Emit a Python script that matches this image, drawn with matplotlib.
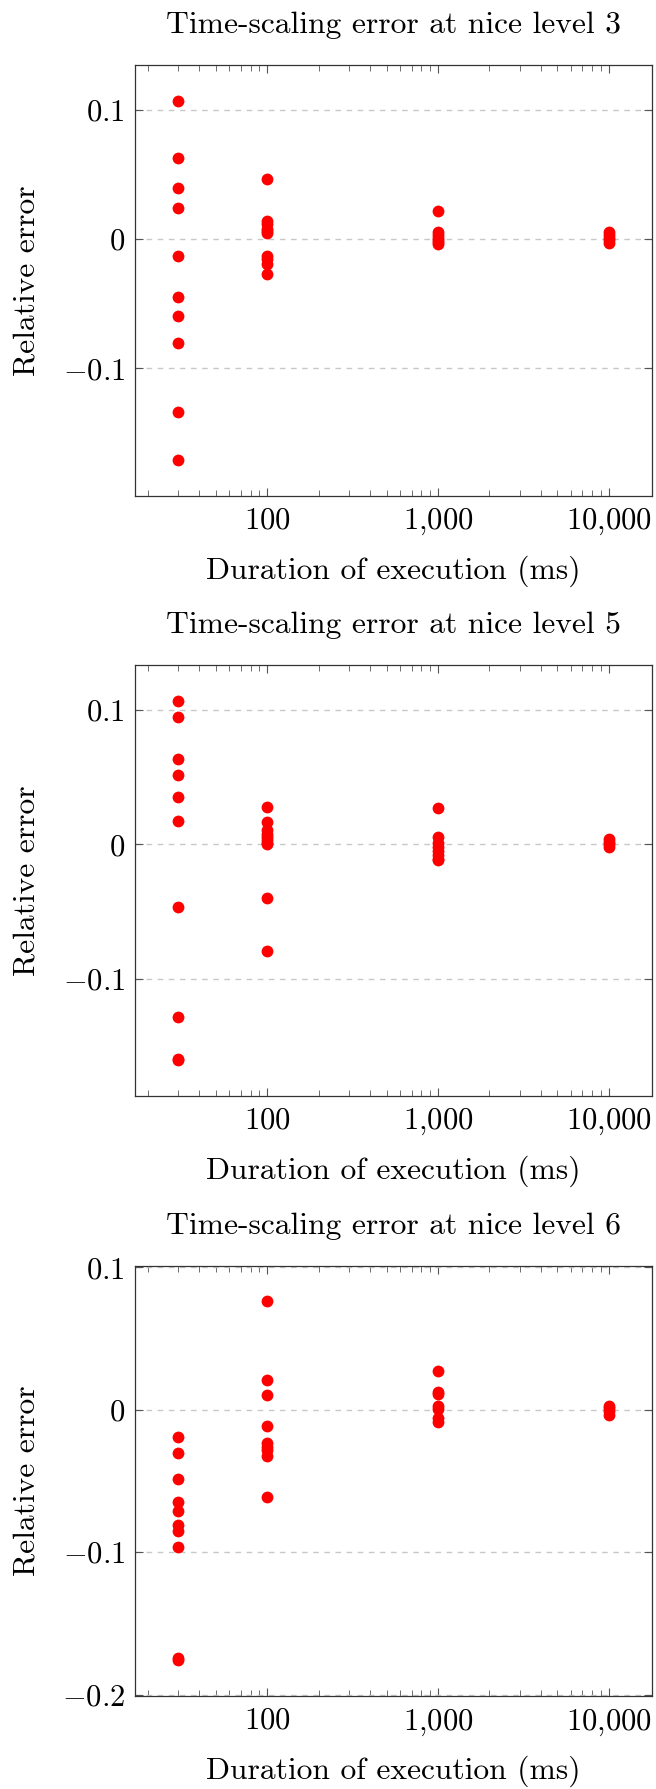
import matplotlib
matplotlib.use("Agg")
import matplotlib.pyplot as plt
from matplotlib.ticker import FixedLocator, FixedFormatter, LogLocator, NullFormatter

plt.rcParams['font.family'] = 'cmr10'
plt.rcParams['mathtext.fontset'] = 'cm'
plt.rcParams['axes.formatter.use_mathtext'] = True

# ---- data ----
titles = ["Time-scaling error at nice level 3",
          "Time-scaling error at nice level 5",
          "Time-scaling error at nice level 6"]
x_label = "Duration of execution (ms)"
y_label = "Relative error"

durations = [30, 100, 1000, 10000]

# nice level 3
n3_30 = [0.1064, 0.0623, 0.0391, 0.0239, -0.0129, -0.0446, -0.0598, -0.0804, -0.1340, -0.1708]
n3_100 = [0.0466, 0.0141, 0.0115, 0.0080, 0.0060, 0.0046, -0.0129, -0.0155, -0.0190, -0.0270]
n3_1000 = [0.0213, 0.0055, 0.0030, 0.0010, -0.0010, -0.0025, -0.0042]
n3_10000 = [0.0051, 0.0030, 0.0010, -0.0010, -0.0031]

# nice level 5
n5_30 = [0.1062, 0.0946, 0.0630, 0.0512, 0.0355, 0.0170, -0.0466, -0.1279, -0.1589, -0.1600]
n5_100 = [0.0275, 0.0166, 0.0106, 0.0075, 0.0056, 0.0030, 0.0010, 0.0000, -0.0399, -0.0791]
n5_1000 = [0.0268, 0.0055, 0.0008, -0.0020, -0.0050, -0.0080, -0.0105, -0.0117]
n5_10000 = [0.0037, 0.0020, 0.0005, -0.0018]

# nice level 6
n6_30 = [-0.0192, -0.0305, -0.0487, -0.0649, -0.0712, -0.0808, -0.0853, -0.0965, -0.1743, -0.1757]
n6_100 = [0.0761, 0.0206, 0.0105, -0.0115, -0.0235, -0.0260, -0.0285, -0.0321, -0.0609]
n6_1000 = [0.0274, 0.0125, 0.0110, 0.0030, 0.0005, -0.0060, -0.0085]
n6_10000 = [0.0030, 0.0012, -0.0010, -0.0035]

panels = [
    [n3_30, n3_100, n3_1000, n3_10000],
    [n5_30, n5_100, n5_1000, n5_10000],
    [n6_30, n6_100, n6_1000, n6_10000],
]

y_ticks = [[-0.1, 0.0, 0.1], [-0.1, 0.0, 0.1], [-0.2, -0.1, 0.0, 0.1]]
y_ticklabels = [[r"$-0.1$", r"$0$", r"$0.1$"],
                [r"$-0.1$", r"$0$", r"$0.1$"],
                [r"$-0.2$", r"$-0.1$", r"$0$", r"$0.1$"]]
x_ticks = [100, 1000, 10000]
x_ticklabels = [r"$100$", r"$1{,}000$", r"$10{,}000$"]

# ---- figure ----
W, H = 656, 1789
fig = plt.figure(figsize=(W / 100, H / 100), dpi=100)

ax_left = 134.6 / W
ax_width = 517.4 / W
ax_height = 430.5 / H
tops = [65.4, 665.4, 1265.5]

fs_tick = 22
fs_text = 22.7
for i, series in enumerate(panels):
    bottom = 1 - (tops[i] + 430.5) / H
    ax = fig.add_axes([ax_left, bottom, ax_width, ax_height])
    ax.set_xscale('log')
    for xv, ys in zip(durations, series):
        ax.plot([xv] * len(ys), ys, linestyle='none', marker='o',
                markersize=8.5, color='#ff0000', markeredgewidth=0, zorder=3)
    ax.margins(x=0.1, y=0.1)

    ax.yaxis.set_major_locator(FixedLocator(y_ticks[i]))
    ax.yaxis.set_major_formatter(FixedFormatter(y_ticklabels[i]))
    ax.xaxis.set_major_locator(FixedLocator(x_ticks))
    ax.xaxis.set_major_formatter(FixedFormatter(x_ticklabels))
    ax.xaxis.set_minor_locator(LogLocator(base=10, subs=range(2, 10), numticks=20))
    ax.xaxis.set_minor_formatter(NullFormatter())

    ax.grid(axis='y', which='major', linestyle=(0, (4, 4)), color='#c8c8c8', linewidth=1.0, zorder=1)
    ax.set_axisbelow(True)

    ax.tick_params(axis='both', which='major', direction='in', length=6, width=0.8,
                   color='#555555', top=True, right=True, labelsize=fs_tick, pad=8)
    ax.tick_params(axis='x', which='minor', direction='in', length=4, width=0.6,
                   color='#555555', top=True, bottom=True)
    ax.tick_params(axis='y', which='major', pad=7)
    for sp in ax.spines.values():
        sp.set_linewidth(0.9)
        sp.set_color('#333333')

    ax.set_title(titles[i], fontsize=fs_text, pad=23)
    ax.set_xlabel(x_label, fontsize=fs_text)
    ax.set_ylabel(y_label, fontsize=fs_text)
    ax.xaxis.set_label_coords(0.5, -0.138)
    ax.yaxis.set_label_coords(-0.182, 0.5)

fig.savefig("out.png", dpi=100)
